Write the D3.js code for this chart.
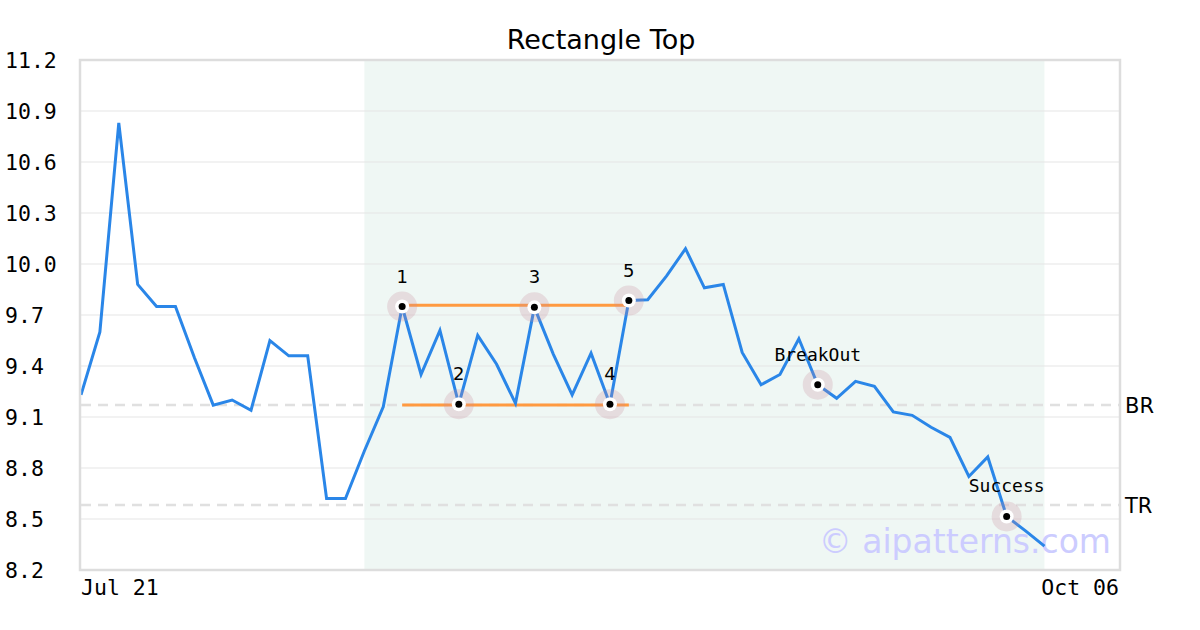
<!DOCTYPE html>
<html><head><meta charset="utf-8">
<script src="https://cdn.jsdelivr.net/npm/d3@7"></script>
<style>body{margin:0;background:#fff}svg{display:block}</style>
</head><body>
<svg id="c" width="1200" height="630"></svg>
<script>
const title = "Rectangle Top";
const prices = [9.23,9.60,10.83,9.88,9.75,9.75,9.45,9.17,9.20,9.14,9.55,9.46,9.46,8.62,8.62,8.90,9.16,9.75,9.35,9.61,9.175,9.58,9.41,9.18,9.745,9.47,9.23,9.475,9.175,9.785,9.79,9.93,10.09,9.86,9.88,9.48,9.29,9.35,9.56,9.29,9.21,9.31,9.28,9.13,9.11,9.04,8.98,8.75,8.865,8.515,8.43,8.34];
const slotCount = 56;
const xTickLabels = ["Jul 21","Oct 06"];
const yTicks = [8.2,8.5,8.8,9.1,9.4,9.7,10.0,10.3,10.6,10.9,11.2];
const pivotIdx = [17,20,24,28,29];
const pivotLabels = ["1","2","3","4","5"];
const eventIdx = [39,49];
const eventLabels = ["BreakOut","Success"];
const shadeRange = [15,51];
const topLevel = 9.757, bottomLevel = 9.17;
const lineRange = [17,29];
const refLevels = [9.17,8.583];
const refLabels = ["BR","TR"];
const watermark = "© aipatterns.com";

const svg = d3.select("#c");
const L=81,R=1120,T=60,B=570;
const x = d3.scaleLinear().domain([0,slotCount-1]).range([L,R]);
const y = d3.scaleLinear().domain([8.2,11.2]).range([B,T]);

svg.append("text").attr("x",601).attr("y",49).attr("text-anchor","middle")
  .attr("font-family","DejaVu Sans").attr("font-size",27).attr("fill","#000").text(title);

svg.append("rect").attr("x",x(shadeRange[0])).attr("y",T).attr("width",x(shadeRange[1])-x(shadeRange[0])).attr("height",B-T).attr("fill","#eff7f4");

// grid
svg.append("g").selectAll("line").data(yTicks.slice(1,-1)).join("line")
  .attr("x1",L).attr("x2",R).attr("y1",d=>y(d)).attr("y2",d=>y(d)).attr("stroke","#e5e5e5").attr("stroke-width",1);

// ref dashed lines
svg.append("g").selectAll("line").data(refLevels).join("line")
  .attr("x1",L).attr("x2",R).attr("y1",d=>y(d)).attr("y2",d=>y(d))
  .attr("stroke","#e0e0e0").attr("stroke-width",2.5).attr("stroke-dasharray","10,7");
svg.append("g").selectAll("text").data(refLevels).join("text")
  .attr("x",R+5).attr("y",d=>y(d)+8).attr("font-family","DejaVu Sans").attr("font-size",21).attr("fill","#000")
  .text((d,i)=>refLabels[i]);

// y axis labels
svg.append("g").selectAll("text").data(yTicks).join("text")
  .attr("x",5).attr("y",d=>y(d)+8).attr("font-family","DejaVu Sans Mono").attr("font-size",21.5).attr("fill","#000")
  .text(d=>d.toFixed(1));

// x labels
svg.append("text").attr("x",x(0)).attr("y",595).attr("font-family","DejaVu Sans Mono").attr("font-size",21.5).attr("text-anchor","start").text(xTickLabels[0]);
svg.append("text").attr("x",x(slotCount-1)-1).attr("y",595).attr("font-family","DejaVu Sans Mono").attr("font-size",21.5).attr("text-anchor","end").text(xTickLabels[1]);

// watermark
svg.append("text").attr("x",1111).attr("y",553).attr("text-anchor","end").attr("font-family","DejaVu Sans").attr("font-size",33)
  .attr("fill","#ccccff").text(watermark);

// rectangle lines
svg.append("g").selectAll("line").data([topLevel,bottomLevel]).join("line")
  .attr("x1",x(lineRange[0])).attr("x2",x(lineRange[1])).attr("y1",d=>y(d)).attr("y2",d=>y(d))
  .attr("stroke","#ff9a40").attr("stroke-width",3);

// price line
svg.append("path").datum(prices).attr("fill","none").attr("stroke","#2a86e8").attr("stroke-width",3)
  .attr("stroke-linejoin","miter")
  .attr("d",d3.line().x((d,i)=>x(i)).y(d=>y(d)));

// frame
svg.append("rect").attr("x",L-1).attr("y",T).attr("width",R-L+1).attr("height",B-T).attr("fill","none").attr("stroke","#dddddd").attr("stroke-width",2.5);

// markers
const allIdx = pivotIdx.concat(eventIdx);
const mg = svg.append("g");
allIdx.forEach(i=>{
  mg.append("circle").attr("cx",x(i)).attr("cy",y(prices[i])).attr("r",15).attr("fill","rgba(200,140,155,0.25)");
  mg.append("circle").attr("cx",x(i)).attr("cy",y(prices[i])).attr("r",7).attr("fill","#fff");
  mg.append("circle").attr("cx",x(i)).attr("cy",y(prices[i])).attr("r",3.5).attr("fill","#000");
});
pivotIdx.forEach((i,k)=>{
  mg.append("text").attr("x",x(i)).attr("y",y(prices[i])-24).attr("text-anchor","middle")
    .attr("font-family","DejaVu Sans").attr("font-size",18).attr("fill","#000").text(pivotLabels[k]);
});
eventIdx.forEach((i,k)=>{
  mg.append("text").attr("x",x(i)).attr("y",y(prices[i])-24).attr("text-anchor","middle")
    .attr("font-family","DejaVu Sans Mono").attr("font-size",18).attr("fill","#000").text(eventLabels[k]);
});
</script>
</body></html>
